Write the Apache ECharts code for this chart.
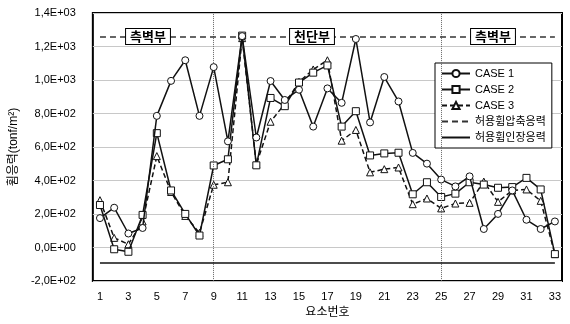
<!DOCTYPE html>
<html>
<head>
<meta charset="utf-8">
<script src="https://cdn.jsdelivr.net/npm/echarts@6.0.0/dist/echarts.min.js"></script>
<style>html,body{margin:0;padding:0;background:#fff}#c{width:570px;height:324px}</style>
</head>
<body>
<div id="c"></div>
<script>
var categories = ['1','2','3','4','5','6','7','8','9','10','11','12','13','14','15','16','17','18','19','20','21','22','23','24','25','26','27','28','29','30','31','32','33'];
var case1 = [176, 238, 84, 117, 786, 995, 1118, 786, 1077, 634, 1262, 657, 994, 881, 942, 722, 950, 864, 1245, 747, 1018, 872, 565, 501, 406, 365, 425, 111, 201, 341, 166, 111, 156];
var case2 = [254, -10, -25, 195, 683, 341, 201, 72, 490, 527, 1265, 491, 893, 844, 985, 1044, 1087, 722, 814, 550, 562, 566, 318, 390, 302, 322, 390, 376, 357, 361, 416, 347, -39];
var case3 = [283, 58, 20, 156, 546, 332, 189, 88, 375, 390, 1250, 497, 751, 858, 989, 1063, 1118, 638, 702, 449, 468, 478, 259, 293, 234, 263, 267, 394, 273, 341, 347, 279, -39];
var allowComp = 1260;
var allowTens = -90;
var sectionLines = ['9', '25'];
var yTickValues = [-200, 0, 200, 400, 600, 800, 1000, 1200, 1400];
var yTickLabels = ['-2,0E+02', '0,0E+00', '2,0E+02', '4,0E+02', '6,0E+02', '8,0E+02', '1,0E+03', '1,2E+03', '1,4E+03'];
var seriesNames = ['CASE 1', 'CASE 2', 'CASE 3', '허용휨압축응력', '허용휨인장응력'];
var sectionLabels = ['측벽부', '천단부', '측벽부'];

var FONT = '"Liberation Sans", "Noto Sans CJK KR", sans-serif';
var chart = echarts.init(document.getElementById('c'), null, {renderer: 'canvas'});

function boxText(x, txt) {
  return {
    type: 'text', x: x, y: 36.5, z: 100,
    style: {
      text: txt, align: 'center', verticalAlign: 'middle',
      font: 'bold 13px "Noto Sans CJK KR", sans-serif', fill: '#000',
      backgroundColor: '#fff', borderColor: '#000', borderWidth: 1,
      padding: [1, 4, 1, 4]
    }
  };
}

var hiddenSym = {color: 'rgba(0,0,0,0)', borderColor: 'rgba(0,0,0,0)', opacity: 0};

var option = {
  animation: false,
  backgroundColor: '#fff',
  textStyle: {fontFamily: FONT},
  grid: {left: 87, right: 8, top: 13, bottom: 39, show: true, borderColor: '#000', borderWidth: 2, backgroundColor: 'transparent'},
  legend: {
    orient: 'vertical', left: 435, top: 63,
    padding: [4, 6, 4, 6],
    itemWidth: 28, itemHeight: 9, itemGap: 3,
    backgroundColor: '#fff', borderColor: '#000', borderWidth: 1,
    textStyle: {fontSize: 11, color: '#000', fontFamily: FONT, lineHeight: 13},
    data: seriesNames.map(function (n) { return {name: n}; })
  },
  xAxis: {
    type: 'category', data: categories, boundaryGap: true,
    name: '요소번호', nameLocation: 'middle', nameGap: 24,
    nameTextStyle: {fontSize: 12, color: '#000', fontFamily: FONT},
    axisLine: {show: false}, axisTick: {show: false},
    axisLabel: {interval: 1, fontSize: 11, color: '#000', margin: 10, fontFamily: FONT},
    splitLine: {show: false}
  },
  yAxis: {
    type: 'value', min: -200, max: 1400, interval: 200,
    name: '휨응력(tonf/m²)', nameLocation: 'middle', nameGap: 64, nameRotate: 90,
    nameTextStyle: {fontSize: 12, color: '#000', fontFamily: FONT},
    axisLine: {show: false}, axisTick: {show: false},
    axisLabel: {fontSize: 11, color: '#000', margin: 17, fontFamily: FONT,
      formatter: function (v) { var i = yTickValues.indexOf(v); return i >= 0 ? yTickLabels[i] : ''; }},
    splitLine: {show: true, lineStyle: {color: '#c8c8c8', width: 1}}
  },
  graphic: [boxText(148, sectionLabels[0]), boxText(312, sectionLabels[1]), boxText(493, sectionLabels[2])],
  series: [
    {
      name: seriesNames[0], type: 'line', data: case1, z: 5,
      symbol: 'circle', symbolSize: 7, showAllSymbol: true,
      lineStyle: {color: '#111', width: 1.5},
      itemStyle: {color: '#fff', borderColor: '#111', borderWidth: 1},
      markLine: {
        silent: true, symbol: ['none', 'none'], label: {show: false},
        lineStyle: {type: 'dotted', color: '#666', width: 1},
        data: sectionLines.map(function (c) { return {xAxis: c}; })
      }
    },
    {
      name: seriesNames[1], type: 'line', data: case2, z: 4,
      symbol: 'rect', symbolSize: 7, showAllSymbol: true,
      lineStyle: {color: '#111', width: 1.5},
      itemStyle: {color: '#fff', borderColor: '#111', borderWidth: 1}
    },
    {
      name: seriesNames[2], type: 'line', data: case3, z: 3,
      symbol: 'triangle', symbolSize: 7, showAllSymbol: true,
      lineStyle: {color: '#111', width: 1.5, type: [5, 3]},
      itemStyle: {color: '#fff', borderColor: '#111', borderWidth: 1}
    },
    {
      name: seriesNames[3], type: 'line', data: [], symbol: 'circle',
      lineStyle: {color: '#333', width: 1.5, type: [6, 4]},
      itemStyle: hiddenSym,
      markLine: {
        silent: true, symbol: ['none', 'none'], label: {show: false},
        lineStyle: {color: '#333', width: 1.5, type: [6, 4], opacity: 1},
        data: [[{coord: [categories[0], allowComp]}, {coord: [categories[categories.length - 1], allowComp]}]]
      }
    },
    {
      name: seriesNames[4], type: 'line', data: [], symbol: 'circle',
      lineStyle: {color: '#111', width: 1.5, type: 'solid'},
      itemStyle: hiddenSym,
      markLine: {
        silent: true, symbol: ['none', 'none'], label: {show: false},
        lineStyle: {color: '#111', width: 1.5, type: 'solid', opacity: 1},
        data: [[{coord: [categories[0], allowTens]}, {coord: [categories[categories.length - 1], allowTens]}]]
      }
    }
  ]
};
chart.setOption(option);
</script>
</body>
</html>
